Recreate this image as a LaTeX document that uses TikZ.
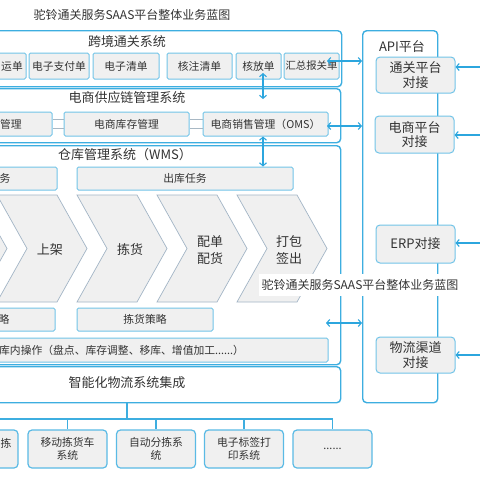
\documentclass[tikz,border=0pt]{standalone}
\usepackage{fontspec}
\newfontfamily\cjk{Noto Sans CJK SC}
\usetikzlibrary{arrows.meta}
\definecolor{cblue}{HTML}{3DAEE0}
\definecolor{bblue}{HTML}{72C4E8}
\definecolor{bfill}{HTML}{F0F0F0}
\definecolor{ablue}{HTML}{2CA6DE}
\definecolor{chev}{HTML}{A3B5C6}
\definecolor{txt}{HTML}{333333}
\definecolor{gbarc}{HTML}{A8B8C4}
\begin{document}
\begin{tikzpicture}[x=1pt,y=-1pt,
  cont/.style={draw=cblue, line width=1.4pt, rounded corners=4pt, inner sep=0pt, anchor=north west},
  box/.style={draw=bblue, fill=bfill, line width=1pt, rounded corners=1.5pt, inner sep=0pt, font=\cjk\fontsize{10.8}{13}\selectfont, text=txt, align=center},
  apibox/.style={box, rounded corners=4pt, font=\cjk\fontsize{13}{14.5}\selectfont, minimum width=79pt},
  botbox/.style={box, rounded corners=4pt, line width=1.2pt, draw=cblue!85, minimum width=79pt, minimum height=38pt, font=\cjk\fontsize{10.8}{13.5}\selectfont},
  ttl/.style={font=\cjk\fontsize{13}{15}\selectfont, text=txt, inner sep=0pt},
  btxt/.style={font=\cjk\fontsize{10.8}{13}\selectfont, text=txt, inner sep=0pt},
  chevtxt/.style={font=\cjk\fontsize{13}{16.5}\selectfont, text=txt, align=center, inner sep=0pt},
  chevron/.style={draw=chev, fill=bfill, line width=0.7pt},
  gbar/.style={draw=gbarc, line width=0.8pt},
  arr/.style={draw=ablue, line width=1.1pt, arrows={Straight Barb[length=3pt,width=7pt]-Straight Barb[length=3pt,width=7pt]}},
  inarr/.style={draw=ablue, line width=1.1pt, arrows={-Straight Barb[length=3pt,width=7pt]}},
  tree/.style={draw=cblue, line width=1.2pt},
]
\useasboundingbox (0,0) rectangle (480,480);
\clip (0,0) rectangle (480,480);
\fill[white] (0,0) rectangle (480,480);

% title
\node[font=\cjk\fontsize{12}{14}\selectfont, text=txt, inner sep=0pt] (title) at (132,15) {驼铃通关服务SAAS平台整体业务蓝图};

% containers
\node[cont, minimum width=361pt, minimum height=56pt] (c1) at (-20,30) {};
\node[cont, minimum width=360pt, minimum height=54pt] (c2) at (-20,88) {};
\node[cont, minimum width=360pt, minimum height=219pt] (c3) at (-20,145) {};
\node[cont, minimum width=360pt, minimum height=36pt] (c4) at (-20,366) {};
\node[cont, minimum width=75pt, minimum height=372pt] (api) at (362,30) {};

\node[ttl] (t1) at (127,42) {跨境通关系统};
\node[ttl] (t2) at (127,98) {电商供应链管理系统};
\node[ttl] (t3) at (125,155) {仓库管理系统（WMS）};
\node[ttl] (t4) at (127,383) {智能化物流系统集成};
\node[ttl] (t5) at (402,47) {API平台};

% row 1
\node[box, minimum width=60pt, minimum height=26pt] (yd) at (-4,66) {};
\node[btxt] (ydt) at (12,66) {运单};
\node[box, minimum width=60pt, minimum height=26pt] (zfd) at (59,66) {电子支付单};
\node[box, minimum width=66pt, minimum height=26pt] (dzqd) at (126,66) {电子清单};
\node[box, minimum width=65pt, minimum height=26pt] (hzqd) at (199.5,66) {核注清单};
\node[box, minimum width=45pt, minimum height=26pt] (hfd) at (258.5,66) {核放单};
\node[box, minimum width=55pt, minimum height=26pt, font=\cjk\fontsize{10.4}{13}\selectfont] (hzbgd) at (311.5,66) {汇总报关单};

% row 2
\node[box, minimum width=92pt, minimum height=24pt] (gl) at (6,124) {};
\node[btxt] (glt) at (11,124) {管理};
\node[box, minimum width=125pt, minimum height=24pt] (kc) at (126.5,124) {电商库存管理};
\node[box, minimum width=125pt, minimum height=24pt] (oms) at (265.5,124) {电商销售管理（OMS）};
\draw[gbar] ([yshift=4.5pt]gl.east) -- ([yshift=4.5pt]kc.west) ([yshift=-4.5pt]gl.east) -- ([yshift=-4.5pt]kc.west);
\draw[gbar] ([yshift=4.5pt]kc.east) -- ([yshift=4.5pt]oms.west) ([yshift=-4.5pt]kc.east) -- ([yshift=-4.5pt]oms.west);

% row 3
\node[box, minimum width=97pt, minimum height=23pt] (rw) at (8.5,178.5) {};
\node[btxt] (rwt) at (5,178.5) {务};
\node[box, minimum width=216pt, minimum height=23pt] (ckrw) at (185,178.5) {出库任务};

% chevrons
\foreach \L in {-83,-3,77,157,237}{
  \path[chevron] (\L,195) -- (\L+60,195) -- (\L+90,248.5) -- (\L+60,302) -- (\L,302) -- (\L+30,248.5) -- cycle;
}
\node[chevtxt] (sj) at (50,250) {上架};
\node[chevtxt] (jh) at (130,250) {拣货};
\node[chevtxt] (pd) at (210,250) {配单\\配货};
\node[chevtxt] (db) at (289,250) {打包\\签出};

% row 4
\node[box, minimum width=95pt, minimum height=23pt] (cl) at (7.5,319.5) {};
\node[btxt] (clt) at (4,319.5) {略};
\node[box, minimum width=136pt, minimum height=23pt] (jhcl) at (145,319.5) {拣货策略};

% row 5
\node[box, minimum width=368pt, minimum height=24pt] (kn) at (144,350) {};
\node[btxt, anchor=west] (knt) at (-1,350) {库内操作（盘点、库存调整、移库、增值加工......）};

% bottom boxes
\node[botbox] (b0) at (-21.5,449) {};
\node[btxt] (b0t) at (6,443) {拣};
\node[botbox] (b1) at (67.5,449) {移动拣货车\\系统};
\node[botbox] (b2) at (156,449) {自动分拣系\\统};
\node[botbox] (b3) at (244,449) {电子标签打\\印系统};
\node[botbox] (b4) at (332.5,449) {......};
\coordinate (tj) at (127,419);
\draw[tree] (t4 |- c4.south) -- (tj);
\draw[tree] (b0.north |- tj) -- (b4.north |- tj);
\foreach \b in {b0,b1,b2,b3,b4}{ \draw[tree] (\b.north |- tj) -- (\b.north); }

% API boxes
\node[apibox, minimum height=36pt] (tg) at (415.5,75) {通关平台\\对接};
\node[apibox, minimum height=37pt] (ds) at (414.5,134.5) {电商平台\\对接};
\node[apibox, minimum height=38pt] (erp) at (415.5,244) {ERP对接};
\node[apibox, minimum height=36pt] (wl) at (415.5,355) {物流渠道\\对接};

% right incoming arrows
\coordinate (r1) at (483,67);
\coordinate (r2) at (483,135);
\coordinate (r3) at (483,243);
\coordinate (r4) at (483,355);
\draw[inarr] (r1) -- (tg.east |- r1);
\draw[inarr] (r2) -- (ds.east |- r2);
\draw[inarr] (r3) -- (erp.east |- r3);
\draw[inarr] (r4) -- (wl.east |- r4);

% left double arrows
\coordinate (l1) at (327,61);
\coordinate (l2) at (327,126);
\coordinate (l3) at (326,323);
\draw[arr] (l1) -- (api.west |- l1);
\draw[arr] (l2) -- (api.west |- l2);
\draw[arr] (l3) -- (api.west |- l3);

% vertical arrows
\coordinate (v1) at (263,73);
\coordinate (v2) at (263,99);
\draw[arr] (v1) -- (v2);
\draw[arr] (oms.south -| v1) -- (ckrw.north -| v1);

% overlay title
\node[fill=white, font=\cjk\fontsize{12}{14}\selectfont, text=txt, inner xsep=3pt, inner ysep=5pt] (title2) at (360,285) {驼铃通关服务SAAS平台整体业务蓝图};
\end{tikzpicture}
\end{document}
